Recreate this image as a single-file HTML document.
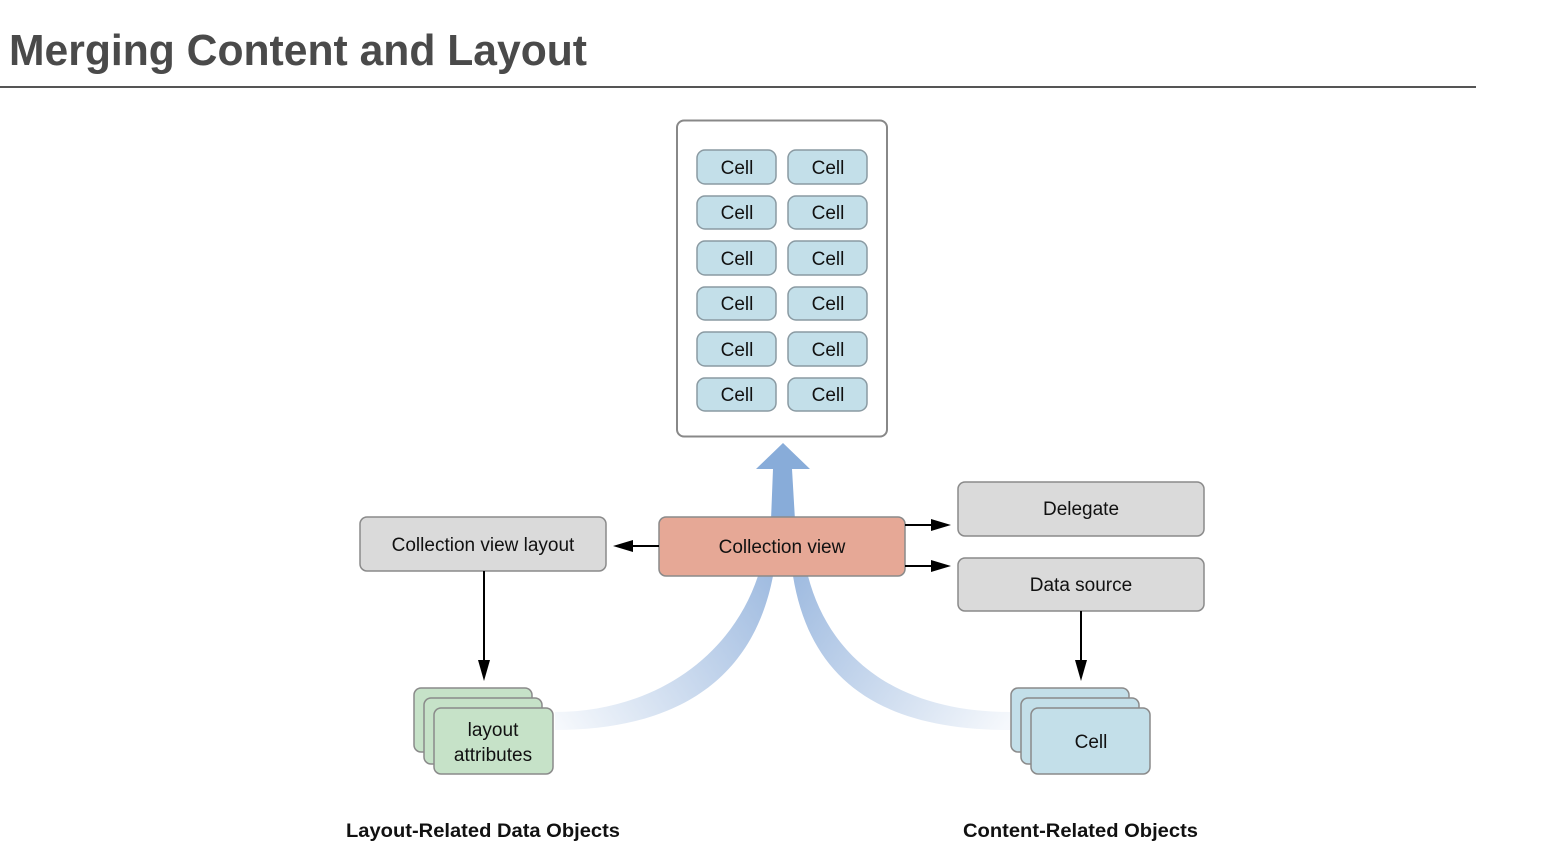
<!DOCTYPE html>
<html><head><meta charset="utf-8"><style>
html,body{margin:0;padding:0;background:#fff;}
svg{display:block;}
</style></head><body>
<svg width="1544" height="862" xmlns="http://www.w3.org/2000/svg" font-family="Liberation Sans, sans-serif">
<defs>
<linearGradient id="gl" x1="775" y1="576" x2="555" y2="720" gradientUnits="userSpaceOnUse">
<stop offset="0" stop-color="#9fbbe0"/><stop offset="1" stop-color="#9fbbe0" stop-opacity="0.1"/></linearGradient>
<linearGradient id="gr" x1="795" y1="576" x2="1010" y2="720" gradientUnits="userSpaceOnUse">
<stop offset="0" stop-color="#9fbbe0"/><stop offset="1" stop-color="#9fbbe0" stop-opacity="0.1"/></linearGradient>
</defs>
<text x="9" y="65" font-size="44" font-weight="bold" fill="#4a4a4a" textLength="578" lengthAdjust="spacingAndGlyphs">Merging Content and Layout</text>
<rect x="0" y="86" width="1476" height="2" fill="#555"/>

<rect x="677" y="120.5" width="210" height="316" rx="7" fill="#fff" stroke="#888" stroke-width="2"/>
<g font-size="19" text-anchor="middle" fill="#111">
<g fill="#c3dfe9" stroke="#8a9aa2" stroke-width="1.5">
<rect x="697" y="150" width="79" height="34" rx="8"/><rect x="788" y="150" width="79" height="34" rx="8"/>
<rect x="697" y="196" width="79" height="33" rx="8"/><rect x="788" y="196" width="79" height="33" rx="8"/>
<rect x="697" y="241" width="79" height="34" rx="8"/><rect x="788" y="241" width="79" height="34" rx="8"/>
<rect x="697" y="287" width="79" height="33" rx="8"/><rect x="788" y="287" width="79" height="33" rx="8"/>
<rect x="697" y="332" width="79" height="34" rx="8"/><rect x="788" y="332" width="79" height="34" rx="8"/>
<rect x="697" y="378" width="79" height="33" rx="8"/><rect x="788" y="378" width="79" height="33" rx="8"/>
</g>
<text x="737" y="174">Cell</text><text x="828" y="174">Cell</text>
<text x="737" y="219">Cell</text><text x="828" y="219">Cell</text>
<text x="737" y="265">Cell</text><text x="828" y="265">Cell</text>
<text x="737" y="310">Cell</text><text x="828" y="310">Cell</text>
<text x="737" y="356">Cell</text><text x="828" y="356">Cell</text>
<text x="737" y="401">Cell</text><text x="828" y="401">Cell</text>
</g>

<path d="M771,520 L773,469 L756,469 L783,443 L810,469 L792,469 L795,520 Z" fill="#88acd9"/>
<path d="M758,576 C730,660 650,712 555,712 L555,730 C670,730 752,685 773,576 Z" fill="url(#gl)"/>
<path d="M808,576 C830,660 900,712 1010,712 L1010,730 C880,730 810,680 793,576 Z" fill="url(#gr)"/>

<g stroke="#8a8a8a" stroke-width="1.5">
<rect x="360" y="517" width="246" height="54" rx="7" fill="#dadada"/>
<rect x="659" y="517" width="246" height="59" rx="7" fill="#e6a896"/>
<rect x="958" y="482" width="246" height="54" rx="7" fill="#dadada"/>
<rect x="958" y="558" width="246" height="53" rx="7" fill="#dadada"/>
</g>
<g font-size="19" text-anchor="middle" fill="#111">
<text x="483" y="551">Collection view layout</text>
<text x="782" y="553">Collection view</text>
<text x="1081" y="515">Delegate</text>
<text x="1081" y="591">Data source</text>
</g>

<g stroke="#000" stroke-width="2">
<line x1="659" y1="546" x2="633" y2="546"/>
<line x1="905" y1="525" x2="932" y2="525"/>
<line x1="905" y1="566" x2="932" y2="566"/>
<line x1="484" y1="571" x2="484" y2="662"/>
<line x1="1081" y1="611" x2="1081" y2="662"/>
</g>
<path d="M613,546 L633,540 L633,552 Z"/>
<path d="M951,525 L931,519 L931,531 Z"/>
<path d="M951,566 L931,560 L931,572 Z"/>
<path d="M484,681 L478,660 L490,660 Z"/>
<path d="M1081,681 L1075,660 L1087,660 Z"/>

<g stroke="#8a8a8a" stroke-width="1.5">
<rect x="414" y="688" width="118" height="64" rx="7" fill="#c6e2c8"/>
<rect x="424" y="698" width="118" height="66" rx="7" fill="#c6e2c8"/>
<rect x="434" y="708" width="119" height="66" rx="7" fill="#c6e2c8"/>
<rect x="1011" y="688" width="118" height="64" rx="7" fill="#c3dfe9"/>
<rect x="1021" y="698" width="118" height="66" rx="7" fill="#c3dfe9"/>
<rect x="1031" y="708" width="119" height="66" rx="7" fill="#c3dfe9"/>
</g>
<g font-size="19" text-anchor="middle" fill="#111">
<text x="493" y="736">layout</text>
<text x="493" y="761">attributes</text>
<text x="1091" y="748">Cell</text>
</g>
<g font-size="19" font-weight="bold" fill="#111">
<text x="346" y="837" textLength="274" lengthAdjust="spacingAndGlyphs">Layout-Related Data Objects</text>
<text x="963" y="837" textLength="235" lengthAdjust="spacingAndGlyphs">Content-Related Objects</text>
</g>
</svg>
</body></html>
